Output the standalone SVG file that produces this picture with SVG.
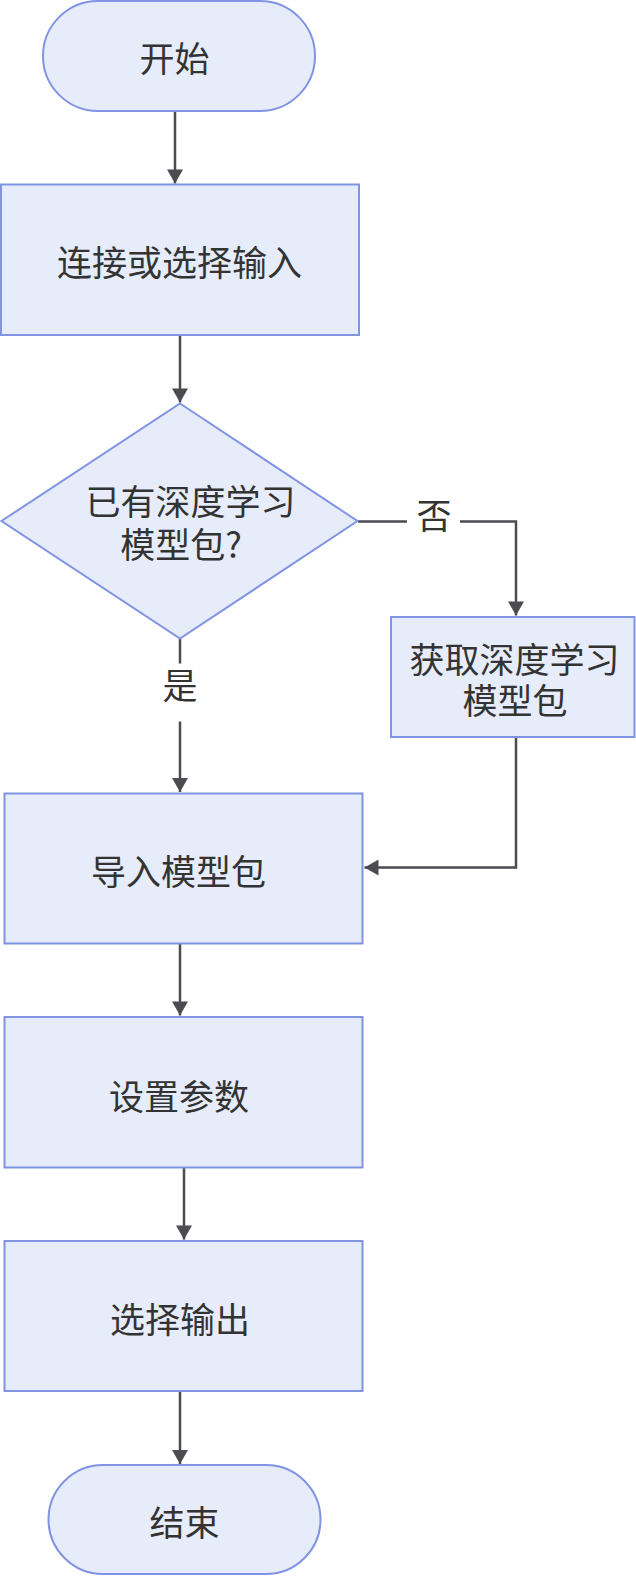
<svg xmlns="http://www.w3.org/2000/svg" width="636" height="1576" viewBox="0 0 636 1576">
<style>
.node{fill:#e6ecfa;stroke:#8094e3;stroke-width:2}
.lbl{font-family:"Noto Sans CJK SC","Noto Sans",sans-serif;font-size:35px;fill:#333333;text-anchor:middle}
.edge{fill:none;stroke:#4b4b50;stroke-width:2.5}
.ebg{fill:#ffffff;stroke:none}
</style>
<defs>
<marker id="arr" markerUnits="userSpaceOnUse" markerWidth="16" markerHeight="16" viewBox="0 0 14 16" refX="14" refY="8" orient="auto">
<path d="M0,0 L14,8 L0,16 z" fill="#4b4b50"/>
</marker>
</defs>
<rect width="636" height="1576" fill="#ffffff"/>
<g id="connectors">
<path class="edge" d="M175,111 L175,183.5" marker-end="url(#arr)"/>
<path class="edge" d="M180,335 L180,402.5" marker-end="url(#arr)"/>
<path class="edge" d="M180,638 L180,792" marker-end="url(#arr)"/>
<path class="edge" d="M358,521.5 L516,521.5 L516,615.5" marker-end="url(#arr)"/>
<path class="edge" d="M516,737 L516,867.5 L364.5,867.5" marker-end="url(#arr)"/>
<path class="edge" d="M180,943.5 L180,1015.5" marker-end="url(#arr)"/>
<path class="edge" d="M184,1167.5 L184,1239.5" marker-end="url(#arr)"/>
<path class="edge" d="M180,1391 L180,1464" marker-end="url(#arr)"/>
<g id="edge-label-yes">
<rect class="ebg" x="153" y="663.5" width="54" height="58"/>
<text class="lbl" x="180" y="699">是</text>
</g>
<g id="edge-label-no">
<rect class="ebg" x="407" y="493" width="53" height="58"/>
<text class="lbl" x="434" y="529">否</text>
</g>
</g>
<g id="node-start">
<rect class="node" x="43" y="1" width="272" height="110" rx="55" ry="55"/>
<text class="lbl" x="174.5" y="71.5">开始</text>
</g>
<g id="node-input">
<rect class="node" x="1" y="184.5" width="358" height="150.5"/>
<text class="lbl" x="179.5" y="276">连接或选择输入</text>
</g>
<g id="node-decision">
<polygon class="node" points="180,403.5 357.5,521 180,638.5 1.5,521"/>
<text class="lbl"><tspan x="190.5" y="515">已有深度学习</tspan><tspan x="181" y="557.5">模型包?</tspan></text>
</g>
<g id="node-fetch">
<rect class="node" x="391" y="617" width="243.5" height="120"/>
<text class="lbl"><tspan x="514.5" y="672.5">获取深度学习</tspan><tspan x="515" y="714">模型包</tspan></text>
</g>
<g id="node-import">
<rect class="node" x="4.5" y="793.5" width="358" height="150"/>
<text class="lbl" x="178.5" y="884.5">导入模型包</text>
</g>
<g id="node-params">
<rect class="node" x="4.5" y="1017" width="358" height="150.5"/>
<text class="lbl" x="179" y="1110">设置参数</text>
</g>
<g id="node-output">
<rect class="node" x="4.5" y="1241" width="358" height="150"/>
<text class="lbl" x="180" y="1332.5">选择输出</text>
</g>
<g id="node-end">
<rect class="node" x="48.5" y="1465" width="272" height="109" rx="54.5" ry="54.5"/>
<text class="lbl" x="184.5" y="1535.5">结束</text>
</g>
</svg>
